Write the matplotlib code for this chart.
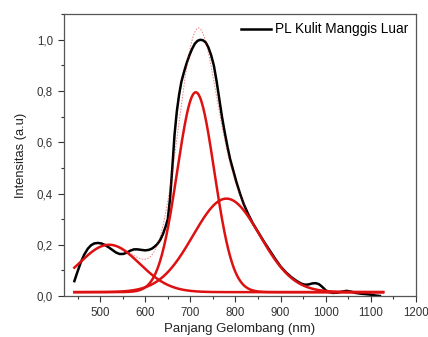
import numpy as np
import matplotlib
matplotlib.use("Agg")
import matplotlib.pyplot as plt
from matplotlib.ticker import MultipleLocator, FuncFormatter

# Measured PL spectrum (black)
wl = [443, 450, 457, 465, 473, 480, 487, 495, 503, 511, 519, 527, 535, 543, 551,
      559, 567, 575, 583, 591, 600, 608, 615, 621, 627, 633, 639, 645, 650, 655,
      660, 665, 670, 675, 680, 686, 692, 698, 704, 710, 716, 722, 728, 734, 740,
      746, 752, 758, 764, 770, 776, 782, 788, 795, 802, 810, 818, 828, 838, 850,
      862, 875, 888, 900, 912, 924, 936, 946, 954, 962, 970, 978, 985, 992, 1000,
      1008, 1016, 1026, 1036, 1046, 1056, 1066, 1078, 1090, 1100, 1110, 1120]
pl = [0.058, 0.095, 0.13, 0.162, 0.185, 0.198, 0.205, 0.207, 0.205, 0.199, 0.19,
      0.18, 0.17, 0.164, 0.164, 0.169, 0.177, 0.182, 0.182, 0.18, 0.178, 0.18,
      0.185, 0.193, 0.203, 0.218, 0.24, 0.27, 0.30, 0.38, 0.50, 0.63, 0.72, 0.785,
      0.835, 0.875, 0.91, 0.94, 0.965, 0.985, 0.996, 1.0, 0.998, 0.99, 0.97, 0.94,
      0.90, 0.84, 0.77, 0.70, 0.64, 0.585, 0.535, 0.49, 0.445, 0.40, 0.36, 0.32,
      0.285, 0.25, 0.215, 0.18, 0.145, 0.115, 0.092, 0.073, 0.058, 0.048, 0.044,
      0.045, 0.049, 0.05, 0.046, 0.036, 0.022, 0.015, 0.012, 0.013, 0.017, 0.02,
      0.017, 0.012, 0.009, 0.007, 0.005, 0.002, 0.0]

# Gaussian fit components (red)
peak_centers = [520, 712, 780]
peak_amplitudes = [0.185, 0.78, 0.365]
peak_sigmas = [67, 41, 74]
fit_baseline = 0.015
fit_range = [443, 1127]

xticks = [500, 600, 700, 800, 900, 1000, 1100, 1200]
yticks = [0.0, 0.2, 0.4, 0.6, 0.8, 1.0]

plt.rcParams['font.family'] = ['Liberation Sans', 'DejaVu Sans']

fig = plt.figure(figsize=(4.28, 3.37), dpi=100)
ax = fig.add_axes([0.1495, 0.1217, 0.972 - 0.1495, 0.958 - 0.1217])

red = '#dd1111'
xf = np.linspace(fit_range[0], fit_range[1], 600)
total = np.full_like(xf, fit_baseline)
for c, a, s in zip(peak_centers, peak_amplitudes, peak_sigmas):
    comp = a * np.exp(-(xf - c) ** 2 / (2 * s ** 2))
    total += comp
    ax.plot(xf, comp + fit_baseline, color=red, lw=1.8, zorder=3)

ax.plot(wl, pl, color='black', lw=1.8, label='PL Kulit Manggis Luar', zorder=2,
        solid_joinstyle='round')
ax.plot(xf, total, color=red, lw=0.7, ls=(0, (1.5, 1.5)), alpha=0.55, zorder=4)

ax.set_xlim(420, 1200)
ax.set_ylim(0, 1.1)
ax.set_xticks(xticks)
ax.set_yticks(yticks)
ax.xaxis.set_minor_locator(MultipleLocator(50))
ax.yaxis.set_minor_locator(MultipleLocator(0.1))
ax.yaxis.set_major_formatter(FuncFormatter(lambda v, p: f"{v:.1f}".replace('.', ',')))
ax.tick_params(which='major', direction='out', length=4, width=0.8, labelsize=8.3,
               colors='#333333', top=False, right=False, pad=4)
ax.tick_params(which='minor', direction='out', length=2.5, width=0.8,
               colors='#333333', top=False, right=False)
for sp in ax.spines.values():
    sp.set_color('#555555')
    sp.set_linewidth(0.9)

ax.set_xlabel('Panjang Gelombang (nm)', fontsize=9.5, color='#222222', labelpad=3)
ax.set_ylabel('Intensitas (a.u)', fontsize=9.3, color='#222222', labelpad=7)

ax.legend(loc='upper right', frameon=False, fontsize=9.8, handlelength=2.2,
          handletextpad=0.3, borderaxespad=0.2)

fig.savefig('out.png', dpi=100)
